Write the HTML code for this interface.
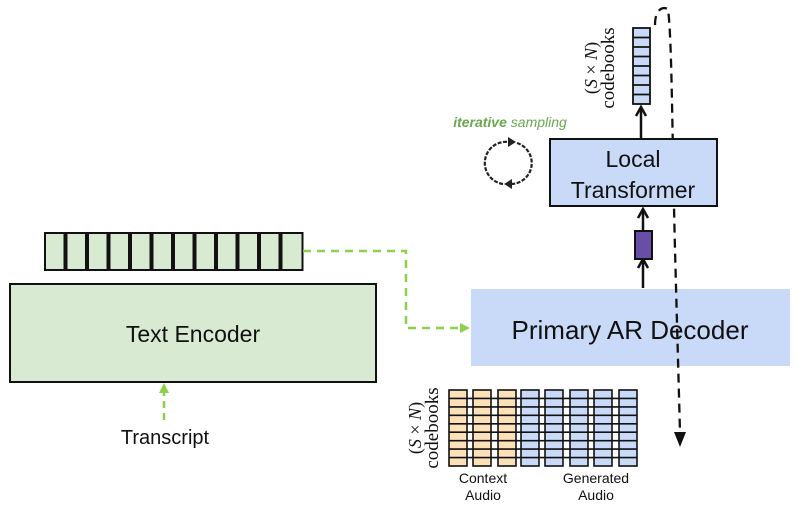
<!DOCTYPE html>
<html><head><style>body{margin:0;background:#fff}svg{display:block}text{font-family:"Liberation Sans",sans-serif}text.serif{font-family:"Liberation Serif",serif}</style></head><body>
<svg width="797" height="522" viewBox="0 0 797 522" xmlns="http://www.w3.org/2000/svg">
<defs>
<marker id="ga" markerWidth="10" markerHeight="10" refX="8" refY="5" orient="auto" markerUnits="userSpaceOnUse"><path d="M0,0 L10,5 L0,10 z" fill="#8dd04e"/></marker>
<marker id="kv" markerWidth="12" markerHeight="12" refX="10" refY="6" orient="auto" markerUnits="userSpaceOnUse"><path d="M1,1 L10,6 L1,11" fill="none" stroke="#111" stroke-width="2.5"/></marker>
</defs>
<g fill="#d9ead3" stroke="#111" stroke-width="2">
<rect x="45" y="233" width="19.5" height="37"/><rect x="66.5" y="233" width="19.5" height="37"/><rect x="88" y="233" width="19.5" height="37"/><rect x="109.5" y="233" width="19.5" height="37"/><rect x="131" y="233" width="19.5" height="37"/><rect x="152.5" y="233" width="19.5" height="37"/><rect x="174" y="233" width="19.5" height="37"/><rect x="195.5" y="233" width="19.5" height="37"/><rect x="217" y="233" width="19.5" height="37"/><rect x="238.5" y="233" width="19.5" height="37"/><rect x="260" y="233" width="19.5" height="37"/><rect x="281.5" y="233" width="21" height="37"/>
</g>
<rect x="10" y="284" width="366" height="98" fill="#d9ead3" stroke="#111" stroke-width="2"/>
<text x="193" y="342" font-size="23" text-anchor="middle" fill="#111">Text Encoder</text>
<line x1="164" y1="420" x2="164" y2="385" stroke="#8dd04e" stroke-width="2.5" stroke-dasharray="7,5" marker-end="url(#ga)"/>
<text x="165" y="444" font-size="20" text-anchor="middle" fill="#111">Transcript</text>
<path d="M303,251 H406 V328 H468" fill="none" stroke="#8dd04e" stroke-width="2.5" stroke-dasharray="8,6" marker-end="url(#ga)"/>
<rect x="471" y="289" width="319" height="77" fill="#c9daf8"/>
<text x="630" y="339" font-size="26" text-anchor="middle" fill="#111">Primary AR Decoder</text>
<path d="M655,25 C655,10 662,6 668,9 C672,40 672,130 675,250 L680,432" fill="none" stroke="#111" stroke-width="2.3" stroke-dasharray="9,6"/>
<path d="M674,432 L686,432 L680,447 z" fill="#111"/>
<rect x="550" y="139" width="167" height="67" fill="#c9daf8" stroke="#111" stroke-width="2"/>
<text x="633" y="167" font-size="23" text-anchor="middle" fill="#111">Local</text>
<text x="633" y="198" font-size="23" text-anchor="middle" fill="#111">Transformer</text>
<line x1="643" y1="288" x2="643" y2="259" stroke="#111" stroke-width="2.5" marker-end="url(#kv)"/>
<rect x="635" y="231" width="17" height="28" fill="#674ea7" stroke="#111" stroke-width="2"/>
<line x1="643" y1="231" x2="643" y2="209" stroke="#111" stroke-width="2.5" marker-end="url(#kv)"/>
<line x1="641" y1="138" x2="641" y2="107" stroke="#111" stroke-width="2.5" marker-end="url(#kv)"/>
<g fill="#c9daf8" stroke="#111" stroke-width="1.8">
<rect x="633" y="28" width="17" height="76"/>
<path d="M633,37.5H650M633,47H650M633,56.5H650M633,66H650M633,75.5H650M633,85H650M633,94.5H650"/>
</g>
<text class="serif" transform="translate(614,68) rotate(-90)" font-size="19" text-anchor="middle" fill="#111">codebooks</text>
<text class="serif" transform="translate(597,68) rotate(-90)" font-size="18" text-anchor="middle" fill="#111">(<tspan font-style="italic">S</tspan> × <tspan font-style="italic">N</tspan>)</text>
<text x="510" y="127" font-size="14" text-anchor="middle" fill="#6aa84f" font-style="italic"><tspan font-weight="bold">iterative</tspan> sampling</text>
<g fill="none" stroke="#222" stroke-width="2.2" stroke-dasharray="4,1.5">
<path d="M503,184 A21,21 0 0 1 509,142"/>
<path d="M517,143 A21,21 0 0 1 512,184"/>
</g>
<path d="M508,137 L516,142 L508,147 z" fill="#222"/>
<path d="M512,179 L504,184 L512,189 z" fill="#222"/>
<g stroke="#111" stroke-width="1.6">
<g fill="#fce0b8">
<rect x="449" y="390" width="18" height="76"/><rect x="473" y="390" width="18" height="76"/><rect x="498" y="390" width="18" height="76"/>
</g>
<g fill="#c9daf8">
<rect x="521" y="390" width="18" height="76"/><rect x="545" y="390" width="18" height="76"/><rect x="570" y="390" width="18" height="76"/><rect x="594" y="390" width="18" height="76"/><rect x="619" y="390" width="18" height="76"/>
</g>
<path d="M449,398.4H637M449,406.9H637M449,415.3H637M449,423.8H637M449,432.2H637M449,440.7H637M449,449.1H637M449,457.6H637" fill="none"/>
</g>
<text class="serif" transform="translate(438,428) rotate(-90)" font-size="19" text-anchor="middle" fill="#111">codebooks</text>
<text class="serif" transform="translate(421,428) rotate(-90)" font-size="18" text-anchor="middle" fill="#111">(<tspan font-style="italic">S</tspan> × <tspan font-style="italic">N</tspan>)</text>
<text x="483" y="483" font-size="14" text-anchor="middle" fill="#111">Context</text>
<text x="483" y="500" font-size="14" text-anchor="middle" fill="#111">Audio</text>
<text x="596" y="483" font-size="14" text-anchor="middle" fill="#111">Generated</text>
<text x="596" y="500" font-size="14" text-anchor="middle" fill="#111">Audio</text>
</svg>
</body></html>
